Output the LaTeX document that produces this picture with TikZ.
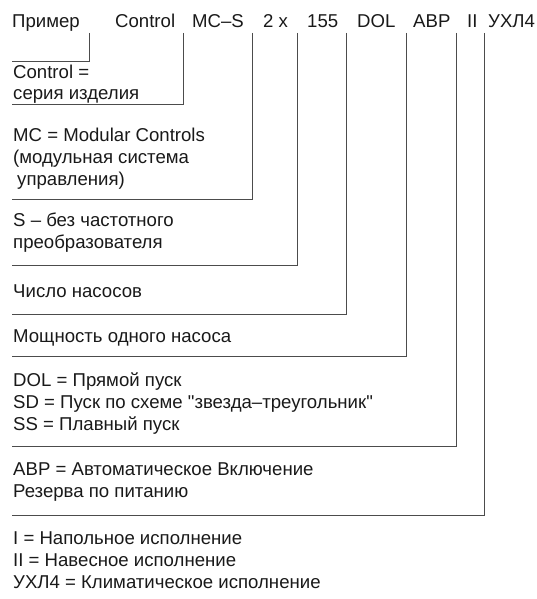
\documentclass[tikz,border=0pt]{standalone}
\usepackage{fontspec}
\setmainfont{Liberation Sans}[Ligatures=TeXOff]
\usepackage{tikz}

\begin{document}
\begin{tikzpicture}[x=1pt,y=-1pt,
    code/.style={anchor=base west,inner sep=0pt,text depth=0pt,outer ysep=5pt,
      text=black!90,font=\fontsize{18.6}{21.7}\selectfont},
    desc/.style={anchor=base west,inner sep=0pt,align=left,
      text=black!90,font=\fontsize{18.6}{21.7}\selectfont},
    lead/.style={draw=black!70,line width=1pt}]

    \useasboundingbox (0,0) rectangle (537,599);

    % marking of the example
    \node[code] (pr) at (12,28) {Пример};
    \node[code] (ctl) at (115,28) {Control};
    \node[code] (mcs) at (192,28) {MC–S};
    \node[code] (num) at (263,28) {2 x};
    \node[code] (pwr) at (307,28) {155};
    \node[code] (dol) at (357,28) {DOL};
    \node[code] (avr) at (413,28) {АВР};
    \node[code] (ver) at (467,28) {II};
    \node[code] (clim) at (488,28) {УХЛ4};

    % explanations (base = last line)
    \node[desc] (dctl) at (13,100) {Control =\\серия изделия};
    \node[desc] (dmcs) at (13,185) {MC = Modular Controls\\(модульная система\\\hspace*{4pt}управления)};
    \node[desc] (ds) at (13,248) {S – без частотного\\преобразователя};
    \node[desc] (dnum) at (13,297) {Число насосов};
    \node[desc] (dpwr) at (13,342) {Мощность одного насоса};
    \node[desc] (ddol) at (13,430) {DOL = Прямой пуск\\SD = Пуск по схеме "звезда–треугольник"\\SS = Плавный пуск};
    \node[desc] (davr) at (13,497) {АВР = Автоматическое Включение\\Резерва по питанию};
    \node[desc] (dver) at (13,588) {I = Напольное исполнение\\II = Навесное исполнение\\УХЛ4 = Климатическое исполнение};

    % columns and line ends
    \coordinate (v1) at (89,0);   \coordinate (e1) at (12,62);
    \coordinate (v2) at (183,0);  \coordinate (e2) at (12,105);
    \coordinate (v3) at (252,0);  \coordinate (e3) at (12,199);
    \coordinate (v4) at (297,0);  \coordinate (e4) at (12,265);
    \coordinate (v5) at (346,0);  \coordinate (e5) at (12,314);
    \coordinate (v6) at (406,0);  \coordinate (e6) at (12,356);
    \coordinate (v7) at (456,0);  \coordinate (e7) at (12,446);
    \coordinate (v8) at (484,0);  \coordinate (e8) at (12,515);

    \draw[lead] (pr.south -| v1) |- (e1);
    \draw[lead] (ctl.south -| v2) |- (e2);
    \draw[lead] (mcs.south -| v3) |- (e3);
    \draw[lead] (num.south -| v4) |- (e4);
    \draw[lead] (pwr.south -| v5) |- (e5);
    \draw[lead] (dol.south -| v6) |- (e6);
    \draw[lead] (avr.south -| v7) |- (e7);
    \draw[lead] (ver.south -| v8) |- (e8);
\end{tikzpicture}
\end{document}
